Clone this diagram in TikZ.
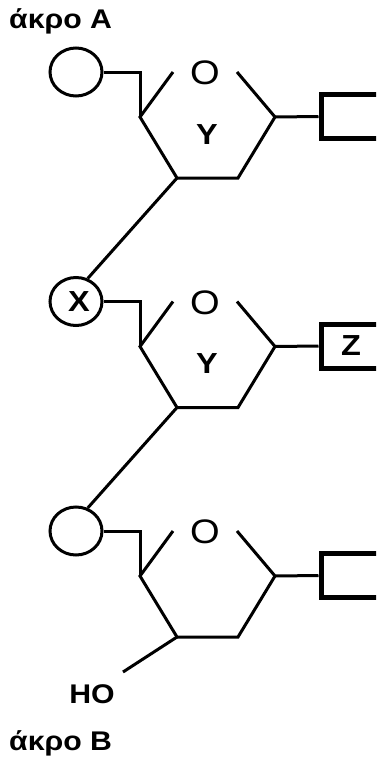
\documentclass[tikz,border=0pt]{standalone}
\usepackage{fontspec}
\setmainfont{Liberation Sans}[FakeStretch=1.12]
\usetikzlibrary{shapes.geometric}
\tikzset{
  bond/.style={line width=3bp},
  endcirc/.style={ellipse, draw, line width=3bp, minimum width=52bp, minimum height=48bp, inner sep=0pt},
  basebox/.style={rectangle, draw, line width=5bp, minimum width=60bp, minimum height=44bp, inner sep=0pt},
  lab/.style={font=\bfseries\fontsize{27bp}{32bp}\selectfont, inner sep=0pt},
  ringO/.style={font=\fontsize{34bp}{40bp}\selectfont, inner sep=0pt},
  inlab/.style={font=\bfseries\fontsize{29bp}{34bp}\selectfont, inner sep=0pt},
}
\begin{document}
\begin{tikzpicture}[x=1bp,y=-1bp]
\useasboundingbox (0,0) rectangle (376,760);
\clip (0,0) rectangle (376,760);
\foreach \i/\y in {1/72,2/301.5,3/531}{
  \node[endcirc] (c\i) at (76,\y) {};
  \node[basebox] (b\i) at (351,\y+44.5) {};
  \node[ringO] (o\i) at (205,\y+1) {O};
  \coordinate (A\i) at (140,\y+45);
  \coordinate (B\i) at (173,\y);
  \coordinate (C\i) at (237,\y);
  \coordinate (D\i) at (275,\y+45);
  \coordinate (E\i) at (238,\y+106);
  \coordinate (F\i) at (177,\y+106);
  \draw[bond] (B\i) -- (A\i) -- (F\i) -- (E\i) -- (D\i) -- (C\i);
  \draw[bond] (c\i.east) -- (A\i |- c\i.east) -- (A\i);
  \draw[bond] (D\i) -- (b\i.west);
}
\node[inlab, xshift=3bp] (xl) at (c2.center) {X};
\node[inlab] (zl) at (b2.center) {Z};
\node[inlab, anchor=base] (y1) at (207,144) {Y};
\node[inlab, anchor=base] (y2) at (207,373.5) {Y};
\draw[bond] (F1) -- (c2.63);
\draw[bond] (F2) -- (c3.63);
\node[lab, anchor=base] (ho) at (92,703) {HO};
\coordinate (hoend) at (123,672);
\draw[bond] (F3) -- (hoend);
\node[lab, anchor=base west] (endA) at (9,28.5) {άκρο A};
\node[lab, anchor=base west] (endB) at (9,750) {άκρο B};
\end{tikzpicture}
\end{document}
